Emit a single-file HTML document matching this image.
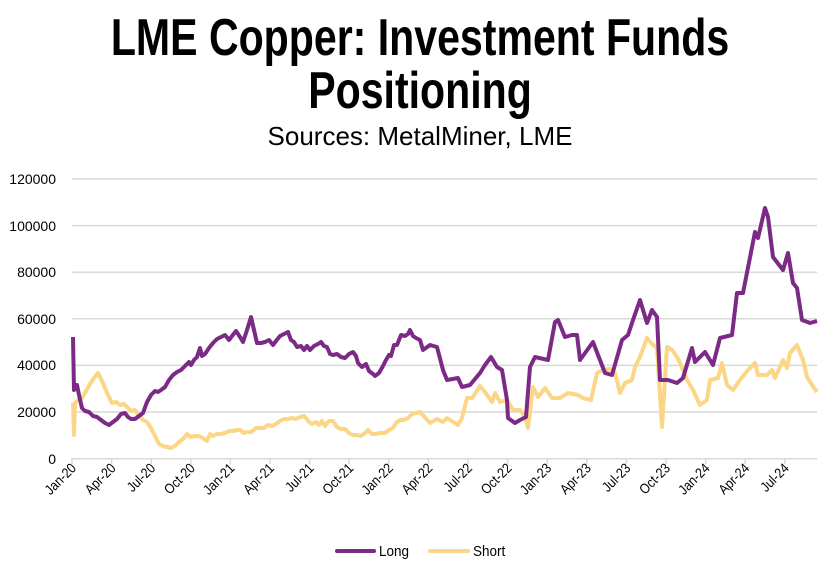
<!DOCTYPE html>
<html><head><meta charset="utf-8"><style>
body{margin:0;background:#fff;}
svg{display:block;}
</style></head><body>
<svg width="840" height="574" xmlns="http://www.w3.org/2000/svg">
<text transform="translate(420,55) scale(0.79,1)" text-anchor="middle" font-family="Liberation Sans, sans-serif" font-weight="bold" font-size="52" fill="#000">LME Copper: Investment Funds</text>
<text transform="translate(420,108) scale(0.79,1)" text-anchor="middle" font-family="Liberation Sans, sans-serif" font-weight="bold" font-size="52" fill="#000">Positioning</text>
<text x="420" y="145" text-anchor="middle" font-family="Liberation Sans, sans-serif" font-size="26" fill="#000">Sources: MetalMiner, LME</text>
<g stroke="#d9d9d9" stroke-width="1.5">
<line x1="72" y1="179" x2="817" y2="179"/>
<line x1="72" y1="225.6" x2="817" y2="225.6"/>
<line x1="72" y1="272.2" x2="817" y2="272.2"/>
<line x1="72" y1="318.8" x2="817" y2="318.8"/>
<line x1="72" y1="365.4" x2="817" y2="365.4"/>
<line x1="72" y1="412" x2="817" y2="412"/>
<line x1="72" y1="458.7" x2="817" y2="458.7"/>
<line x1="72" y1="458" x2="72" y2="464"/><line x1="111.6" y1="458" x2="111.6" y2="464"/><line x1="151.2" y1="458" x2="151.2" y2="464"/><line x1="190.8" y1="458" x2="190.8" y2="464"/><line x1="230.4" y1="458" x2="230.4" y2="464"/><line x1="270" y1="458" x2="270" y2="464"/><line x1="309.6" y1="458" x2="309.6" y2="464"/><line x1="349.2" y1="458" x2="349.2" y2="464"/><line x1="388.8" y1="458" x2="388.8" y2="464"/><line x1="428.4" y1="458" x2="428.4" y2="464"/><line x1="468" y1="458" x2="468" y2="464"/><line x1="507.6" y1="458" x2="507.6" y2="464"/><line x1="547.2" y1="458" x2="547.2" y2="464"/><line x1="586.8" y1="458" x2="586.8" y2="464"/><line x1="626.4" y1="458" x2="626.4" y2="464"/><line x1="666" y1="458" x2="666" y2="464"/><line x1="705.6" y1="458" x2="705.6" y2="464"/><line x1="745.2" y1="458" x2="745.2" y2="464"/><line x1="784.8" y1="458" x2="784.8" y2="464"/>
</g>
<g font-family="Liberation Sans, sans-serif" font-size="14" fill="#000" text-anchor="end">
<text x="56" y="184">120000</text><text x="56" y="231">100000</text><text x="56" y="277">80000</text><text x="56" y="324">60000</text><text x="56" y="370">40000</text><text x="56" y="417">20000</text><text x="56" y="464">0</text>
</g>
<g font-family="Liberation Sans, sans-serif" font-size="14" fill="#000" text-anchor="end">
<text transform="translate(77,469) rotate(-45) scale(0.88,1)">Jan-20</text>
<text transform="translate(116.6,469) rotate(-45) scale(0.88,1)">Apr-20</text>
<text transform="translate(156.2,469) rotate(-45) scale(0.88,1)">Jul-20</text>
<text transform="translate(195.8,469) rotate(-45) scale(0.88,1)">Oct-20</text>
<text transform="translate(235.4,469) rotate(-45) scale(0.88,1)">Jan-21</text>
<text transform="translate(275,469) rotate(-45) scale(0.88,1)">Apr-21</text>
<text transform="translate(314.6,469) rotate(-45) scale(0.88,1)">Jul-21</text>
<text transform="translate(354.2,469) rotate(-45) scale(0.88,1)">Oct-21</text>
<text transform="translate(393.8,469) rotate(-45) scale(0.88,1)">Jan-22</text>
<text transform="translate(433.4,469) rotate(-45) scale(0.88,1)">Apr-22</text>
<text transform="translate(473,469) rotate(-45) scale(0.88,1)">Jul-22</text>
<text transform="translate(512.6,469) rotate(-45) scale(0.88,1)">Oct-22</text>
<text transform="translate(552.2,469) rotate(-45) scale(0.88,1)">Jan-23</text>
<text transform="translate(591.8,469) rotate(-45) scale(0.88,1)">Apr-23</text>
<text transform="translate(631.4,469) rotate(-45) scale(0.88,1)">Jul-23</text>
<text transform="translate(671,469) rotate(-45) scale(0.88,1)">Oct-23</text>
<text transform="translate(710.6,469) rotate(-45) scale(0.88,1)">Jan-24</text>
<text transform="translate(750.2,469) rotate(-45) scale(0.88,1)">Apr-24</text>
<text transform="translate(789.8,469) rotate(-45) scale(0.88,1)">Jul-24</text>
</g>
<polyline fill="none" stroke="#fad686" stroke-width="4" stroke-linejoin="round" points="73,403 74,435 75,403 79,400 82,398 86,391 90,384 94,378 98,373 103,383 107,393 112,403 116,402 120,405 124,404 128,408 131,411 135,410 139,416 143,420 147,422 151,428 155,436 159,444 163,446 167,447 171,448 175,446 179,442 183,439 187,434 191,437 195,436 199,436 203,438 207,441 210,434 213,436 217,434 221,434 225,433 229,431 233,431 237,430 240,430 244,433 247,432 251,432 256,428 260,428 264,428 268,425 272,426 276,424 280,421 284,419 288,419 292,418 296,419 300,417 304,416 306,418 309,422 312,424 316,422 319,425 322,421 325,426 329,421 333,421 337,427 341,429 345,429 349,433 353,435 357,435 361,436 365,433 368,430 372,434 376,434 380,433 385,433 389,430 393,428 396,423 400,420 404,420 408,418 412,414 416,413 420,412 430,423 437,419 443,422 447,418 458,425 462,418 467,398 472,398 480,386 485,392 492,402 495,393 500,402 507,400 513,410 520,410 525,417 528,428 533,387 538,397 545,388 552,398 560,398 568,393 578,395 583,398 591,400 597,373 603,370 610,369 615,373 620,393 625,383 632,380 635,367 640,357 647,338 653,345 657,348 662,427 667,347 672,350 677,357 680,363 687,380 693,390 700,405 707,400 710,380 718,378 722,363 727,385 733,390 740,380 748,370 755,363 758,375 767,375 772,370 775,378 783,360 787,368 790,353 797,345 803,360 807,377 812,385 817,392"/>
<polyline fill="none" stroke="#7b2a85" stroke-width="4" stroke-linejoin="round" points="73,337 74,390 77,385 79,395 82,408 85,411 89,412 93,416 97,417 101,420 105,423 109,425 113,422 117,419 121,414 125,413 128,417 131,419 135,419 139,416 143,413 147,402 151,395 155,391 158,392 161,390 165,387 169,380 173,375 177,372 181,370 185,366 189,362 191,365 194,360 197,357 200,348 202,356 205,354 209,348 213,343 217,339 221,337 225,335 229,340 232,336 236,331 240,337 243,342 247,330 251,317 254,330 257,343 261,343 265,342 269,340 273,345 276,341 280,336 284,334 288,332 291,340 294,342 297,347 301,346 304,350 307,346 310,350 314,346 318,344 321,342 324,346 327,347 330,354 333,355 337,354 341,357 345,358 349,354 353,352 356,356 358,363 362,367 366,364 369,371 373,374 375,376 379,373 383,366 386,360 389,355 391,356 394,345 397,345 401,335 405,336 408,334 410,330 413,336 416,338 420,340 423,350 430,345 437,347 443,370 447,380 458,378 462,387 470,385 480,373 485,365 491,357 497,367 502,370 507,400 508,418 515,423 520,420 526,417 530,367 535,357 548,360 555,322 558,320 565,337 572,335 577,335 580,360 593,342 605,373 612,375 622,340 628,335 633,320 640,300 647,323 652,310 657,317 660,380 668,380 677,383 683,378 692,348 695,362 705,352 713,365 720,338 732,335 737,293 743,293 755,232 758,238 765,208 768,217 773,257 783,270 788,253 793,283 797,288 802,320 810,323 817,321"/>
<line x1="337" y1="551" x2="374" y2="551" stroke="#7b2a85" stroke-width="4" stroke-linecap="round"/>
<text transform="translate(379,556) scale(0.9,1)" font-family="Liberation Sans, sans-serif" font-size="15" fill="#000">Long</text>
<line x1="430" y1="551" x2="468" y2="551" stroke="#fad686" stroke-width="4" stroke-linecap="round"/>
<text transform="translate(473,556) scale(0.9,1)" font-family="Liberation Sans, sans-serif" font-size="15" fill="#000">Short</text>
</svg>
</body></html>
